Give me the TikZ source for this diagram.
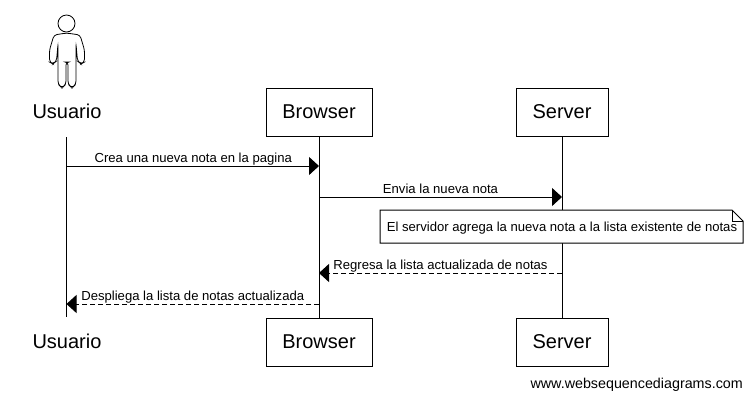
\documentclass[tikz,border=0pt]{standalone}
\usepackage{fontspec}
\setmainfont{Liberation Sans}
\usetikzlibrary{arrows.meta}
\tikzset{
	actorbox/.style={draw,line width=1pt,fill=white,minimum height=48pt,font=\fontsize{20}{24}\selectfont},
	actorname/.style={font=\fontsize{20}{24}\selectfont},
	msg/.style={font=\fontsize{13.1}{16}\selectfont,inner sep=3pt,text depth=0pt},
	notetext/.style={font=\fontsize{13.1}{16}\selectfont,inner sep=2pt},
	lifeline/.style={line width=1pt},
	call/.style={line width=1pt,-{Triangle[length=10pt,width=18pt]}},
	reply/.style={call,dash pattern=on 5pt off 3pt},
}
\begin{document}
\begin{tikzpicture}[x=1pt,y=-1pt]
\useasboundingbox (0,0) rectangle (752,400);
%names on top and bottom
\node[actorname] (usuarioA) at (67,111){Usuario};
\node[actorname] (usuarioB) at (67,341){Usuario};
\coordinate (usuarioT) at (66.5,137);
\coordinate (usuarioE) at (66.5,317);
%lifelines
\draw[lifeline] (usuarioT)--(usuarioE);
%boxes
\node[actorbox,minimum width=106pt] (browserA) at (319,112){Browser};
\node[actorbox,minimum width=92pt] (serverA) at (562,112){Server};
\node[actorbox,minimum width=106pt] (browserB) at (319,342){Browser};
\node[actorbox,minimum width=92pt] (serverB) at (562,342){Server};
\draw[lifeline] (browserA)--(browserB);
\draw[lifeline] (serverA)--(serverB);
%stick figure
\draw[line width=.8pt] (66.5,23.5) circle (8.5);
\draw[line width=.8pt,rounded corners=3pt] (66.5,33)--(54,35)--(49.5,50)--(49.5,62)--(53,64)--(56.5,61)--(58,44)--(58,84)--(62,88)--(66,84)--(66,62)--(68,62)--(68,84)--(72,88)--(76,84)--(76,44)--(77.5,61)--(81,64)--(84.5,62)--(84.5,50)--(80,35)--cycle;
%messages
\coordinate (m1a) at (66.5,166); \coordinate (m1b) at (319,166);
\coordinate (m2a) at (319,197); \coordinate (m2b) at (562,197);
\coordinate (m3a) at (562,273); \coordinate (m3b) at (319,273);
\coordinate (m4a) at (319,304); \coordinate (m4b) at (66.5,304);
\draw[call] (m1a)--node[msg,above,xshift=.5pt]{Crea una nueva nota en la pagina}(m1b);
\draw[call] (m2a)--node[msg,above]{Envia la nueva nota}(m2b);
\draw[reply] (m3a)--node[msg,above]{Regresa la lista actualizada de notas}(m3b);
\draw[reply] (m4a)--node[msg,above]{Despliega la lista de notas actualizada}(m4b);
%note
\draw[line width=1pt,fill=white] (380,210)--(732,210)--(743,221)--(743,243)--(380,243)--cycle;
\draw[line width=1pt] (732,210)--(732,221)--(743,221);
\node[notetext] (note) at (562,228){El servidor agrega la nueva nota a la lista existente de notas};
%footer
\node[font=\fontsize{14.3}{17}\selectfont,anchor=east,inner sep=0pt] (site) at (743,385){www.websequencediagrams.com};
\end{tikzpicture}
\end{document}
